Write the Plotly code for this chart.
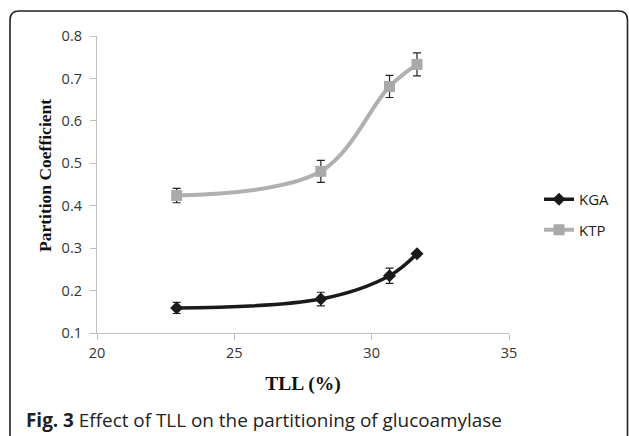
import plotly.graph_objects as go

tll = [22.9, 28.15, 30.65, 31.65]
kga = [0.159, 0.180, 0.235, 0.287]
kga_err = [0.013, 0.016, 0.018, 0.005]
ktp = [0.424, 0.481, 0.681, 0.733]
ktp_err = [0.017, 0.026, 0.026, 0.027]

L, R, T, B = 97, 120, 36, 103
W, H = 629, 436
pw, ph = W - L - R, H - T - B

def px(x):
    return (x - L) / pw

def py(y):
    return (H - B - y) / ph

fig = go.Figure()
fig.add_trace(go.Scatter(
    x=tll, y=kga, name="KGA", mode="lines+markers", legendgroup="a",
    line=dict(color="#1a1a1a", width=3.5, shape="spline", smoothing=1.0),
    marker=dict(symbol="diamond", size=10, color="#1a1a1a"),
    error_y=dict(type="data", array=kga_err, color="#222222", thickness=1.2, width=4),
))
fig.add_trace(go.Scatter(
    x=tll, y=ktp, name="KTP", mode="lines+markers", legendgroup="b",
    line=dict(color="#b0b0b0", width=4, shape="spline", smoothing=1.0),
    marker=dict(symbol="square", size=11, color="#a9a9a9"),
    error_y=dict(type="data", array=ktp_err, color="#222222", thickness=1.2, width=4),
))

axis_common = dict(
    showline=True, linecolor="#bfbfbf", linewidth=1.2, showgrid=False, zeroline=False,
    ticks="outside", ticklen=6, tickcolor="#bfbfbf",
    tickfont=dict(family="Open Sans", size=14.5, color="#333333"),
)
fig.update_xaxes(range=[20, 35], dtick=5, **axis_common,
                 title=dict(text="<b>TLL (%)</b>", font=dict(family="Liberation Serif", size=19.5, color="#111111"), standoff=15))
fig.update_yaxes(range=[0.1, 0.8], dtick=0.1, tickformat=".1f", ticklabelstandoff=5, **axis_common)

fig.add_annotation(text="<b>Partition Coefficient</b>", textangle=-90,
                   xref="paper", yref="paper", x=px(45), y=py(176), xanchor="center", yanchor="middle",
                   showarrow=False, font=dict(family="Liberation Serif", size=17.5, color="#111111"))

r = 9
x0, x1 = px(10), px(627.5)
y0, y1 = py(11), py(445)
rx, ry = r / pw, r / ph
path = (f"M {x0} {y1} L {x0} {y0 - ry} Q {x0} {y0} {x0 + rx} {y0} "
        f"L {x1 - rx} {y0} Q {x1} {y0} {x1} {y0 - ry} L {x1} {y1}")
fig.add_shape(type="path", path=path, xref="paper", yref="paper",
              line=dict(color="#222222", width=1.6))

fig.add_annotation(text="<b>Fig. 3</b> Effect of TLL on the partitioning of glucoamylase",
                   xref="paper", yref="paper", x=px(24), y=py(420), xanchor="left", yanchor="middle",
                   showarrow=False, font=dict(family="Open Sans", size=18.9, color="#222222"))

fig.update_layout(
    width=W, height=H, margin=dict(l=L, r=R, t=T, b=B),
    paper_bgcolor="white", plot_bgcolor="white",
    showlegend=True,
    legend=dict(x=px(539), y=py(183), xanchor="left", yanchor="top",
                font=dict(family="Open Sans", size=15, color="#222222"),
                tracegroupgap=8, itemwidth=30, bgcolor="rgba(0,0,0,0)"),
)
fig.write_html("out.html")
